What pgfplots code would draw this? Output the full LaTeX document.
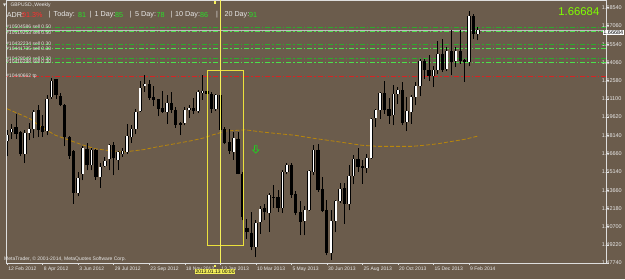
\documentclass[border=0pt]{standalone}
\usepackage{fontspec}
\setmainfont{Liberation Sans}
\newfontfamily\djv{DejaVu Sans}
\usepackage{pgfplots}
\usepackage{pgfplotstable}
\usetikzlibrary{shapes.arrows}
\pgfplotsset{compat=1.18}
\definecolor{bg}{RGB}{107,92,76}
\definecolor{framec}{RGB}{222,222,222}
\definecolor{txt}{RGB}{232,232,232}
\definecolor{ordA}{RGB}{45,170,45}
\definecolor{ordB}{RGB}{75,225,75}
\definecolor{tpred}{RGB}{215,35,35}
\definecolor{ma}{RGB}{184,134,11}
\definecolor{vyel}{RGB}{245,240,90}
\definecolor{ryel}{RGB}{235,225,60}
\definecolor{bign}{RGB}{128,255,0}
\definecolor{adrred}{RGB}{255,45,45}
\definecolor{adrgrn}{RGB}{40,225,40}
\definecolor{arrg}{RGB}{30,210,30}
\definecolor{pline}{RGB}{190,190,190}

\pgfplotstableread{
x o h l c
0 1.5764 1.5858 1.5642 1.5813
1 1.5837 1.5907 1.5785 1.5866
4 1.5663 1.5853 1.5587 1.5831
5 1.5831 1.5913 1.5772 1.5861
6 1.5861 1.6016 1.5791 1.6002
9 1.5848 1.6138 1.5813 1.6110
10 1.6124 1.6281 1.6110 1.6255
16 1.5346 1.5514 1.5317 1.5466
17 1.5501 1.5723 1.5447 1.5712
19 1.5569 1.5712 1.5528 1.5696
21 1.5474 1.5588 1.5387 1.5555
22 1.5566 1.5636 1.5555 1.5601
23 1.5618 1.5740 1.5528 1.5732
25 1.5615 1.5685 1.5533 1.5677
26 1.5658 1.5712 1.5636 1.5683
27 1.5677 1.5907 1.5663 1.5805
28 1.5799 1.5894 1.5750 1.5866
29 1.5866 1.6029 1.5821 1.6002
30 1.6008 1.6255 1.6002 1.6200
31 1.6212 1.6301 1.6165 1.6228
36 1.6002 1.6138 1.5907 1.6078
40 1.5913 1.6043 1.5894 1.6016
41 1.6016 1.6057 1.5954 1.6035
43 1.6011 1.6184 1.5994 1.6165
44 1.6160 1.6301 1.6103 1.6171
47 1.6024 1.6146 1.6011 1.6138
51 1.5677 1.5839 1.5615 1.5791
56 1.4904 1.5121 1.4823 1.5099
57 1.5108 1.5235 1.5012 1.5211
59 1.5181 1.5343 1.5026 1.5325
62 1.5224 1.5533 1.5181 1.5514
63 1.5514 1.5588 1.5496 1.5574
67 1.5116 1.5235 1.4999 1.5208
68 1.5208 1.5528 1.5197 1.5520
69 1.5514 1.5732 1.5488 1.5696
73 1.4858 1.5208 1.4801 1.5116
74 1.5116 1.5289 1.5026 1.5279
75 1.5279 1.5425 1.5262 1.5379
77 1.5257 1.5569 1.5203 1.5479
78 1.5482 1.5650 1.5414 1.5618
81 1.5549 1.5663 1.5509 1.5631
82 1.5631 1.5954 1.5623 1.5948
83 1.5954 1.6029 1.5880 1.6016
84 1.6016 1.6165 1.5948 1.6157
87 1.5976 1.6220 1.5894 1.6151
88 1.6151 1.6206 1.6070 1.6179
90 1.5921 1.6124 1.5848 1.6008
91 1.6002 1.6138 1.5907 1.6124
92 1.6124 1.6247 1.6057 1.6214
93 1.6214 1.6436 1.6130 1.6417
96 1.6293 1.6374 1.6206 1.6347
97 1.6342 1.6578 1.6314 1.6477
99 1.6350 1.6531 1.6334 1.6496
101 1.6417 1.6531 1.6369 1.6496
104 1.6409 1.6824 1.6374 1.6781
106 1.6639 1.6694 1.6586 1.6668
}\up

\pgfplotstableread{
x o h l c
2 1.5880 1.5984 1.5785 1.5825
3 1.5839 1.5847 1.5642 1.5659
7 1.6021 1.6057 1.5799 1.5853
8 1.5886 1.5976 1.5799 1.5839
11 1.6269 1.6273 1.6110 1.6138
12 1.6132 1.6157 1.6049 1.6057
13 1.6057 1.6070 1.5723 1.5799
14 1.5799 1.5805 1.5622 1.5644
15 1.5685 1.5691 1.5257 1.5346
18 1.5699 1.5750 1.5528 1.5569
20 1.5691 1.5704 1.5452 1.5474
24 1.5732 1.5758 1.5488 1.5631
32 1.6228 1.6260 1.6103 1.6119
33 1.6124 1.6212 1.6049 1.6103
34 1.6106 1.6110 1.5968 1.6029
35 1.6035 1.6171 1.5994 1.6002
37 1.6076 1.6165 1.5994 1.6016
38 1.6021 1.6043 1.5875 1.5894
39 1.5915 1.5921 1.5813 1.5899
42 1.6035 1.6119 1.5989 1.6008
45 1.6171 1.6273 1.6057 1.6146
46 1.6151 1.6165 1.5994 1.6029
48 1.6138 1.6146 1.5839 1.5858
49 1.5866 1.5880 1.5740 1.5750
50 1.5758 1.5866 1.5663 1.5685
52 1.5785 1.5839 1.5496 1.5501
53 1.5501 1.5514 1.5121 1.5148
54 1.5061 1.5135 1.4972 1.5026
55 1.5021 1.5189 1.4877 1.4904
58 1.5224 1.5257 1.5121 1.5189
60 1.5311 1.5406 1.5224 1.5303
61 1.5311 1.5365 1.5189 1.5224
64 1.5574 1.5588 1.5305 1.5330
65 1.5338 1.5360 1.5162 1.5183
66 1.5189 1.5278 1.4999 1.5108
70 1.5696 1.5745 1.5352 1.5370
71 1.5376 1.5474 1.5189 1.5197
72 1.5203 1.5289 1.4837 1.4858
76 1.5384 1.5425 1.5094 1.5257
79 1.5618 1.5712 1.5514 1.5555
80 1.5563 1.5610 1.5419 1.5547
85 1.6157 1.6255 1.5989 1.6021
86 1.6024 1.6119 1.5907 1.5970
89 1.6179 1.6247 1.5894 1.5915
94 1.6417 1.6436 1.6273 1.6342
95 1.6342 1.6464 1.6255 1.6293
98 1.6472 1.6599 1.6328 1.6347
100 1.6496 1.6667 1.6301 1.6409
102 1.6496 1.6672 1.6395 1.6417
103 1.6428 1.6436 1.6247 1.6409
105 1.6781 1.6797 1.6599 1.6639
}\dn

\begin{document}
\begin{tikzpicture}[x=1pt,y=1pt]
\useasboundingbox (0,0) rectangle (625,279);
\fill[bg] (0,0) rectangle (625,279);
\begin{axis}[
  at={(1.5,13)}, anchor=south west,
  scale only axis, width=600pt, height=263pt,
  xmin=-0.1, xmax=135, ymin=1.4774, ymax=1.6914,
  clip mode=individual,
  axis line style={draw=framec, line width=0.7pt},
  xtick={0,8,...,104},
  xticklabels={12 Feb 2012, 8 Apr 2012, 3 Jun 2012, 29 Jul 2012, 23 Sep 2012, 18 Nov 2012, 13 Jan 2013, 10 Mar 2013, 5 May 2013, 30 Jun 2013, 25 Aug 2013, 20 Oct 2013, 15 Dec 2013, 9 Feb 2014},
  ytick={1.4774,1.4922,1.5070,1.5218,1.5366,1.5514,1.5666,1.5814,1.5962,1.6110,1.6258,1.6406,1.6554,1.6706,1.6854},
  yticklabels={1.47740,1.49220,1.50700,1.52180,1.53660,1.55140,1.56660,1.58140,1.59620,1.61100,1.62580,1.64060,1.65540,1.67060,1.68540},
  xtick pos=left, ytick pos=right,
  xticklabel pos=left, yticklabel pos=right,
  tick align=outside, major tick length=2pt,
  every tick/.style={draw=framec, line width=0.5pt},
  xticklabel style={font=\fontsize{5}{6}\selectfont, text=txt, anchor=north west, inner sep=0pt, xshift=1pt, yshift=-1.5pt},
  yticklabel style={font=\fontsize{5.5}{6}\selectfont, text=txt, anchor=west, inner sep=0pt, xshift=-7pt},
]
% order lines
\addplot[ordA, line width=0.6pt, dash pattern=on 5pt off 2pt on 1.5pt off 2pt] coordinates {(-1,1.6688) (140,1.6688)};
\addplot[pline, line width=0.5pt] coordinates {(-1,1.66684) (140,1.66684)};
\addplot[ordB, line width=0.8pt, dash pattern=on 5pt off 2pt on 1.5pt off 2pt] coordinates {(-1,1.6659) (140,1.6659)};
\addplot[ordA, line width=0.6pt, dash pattern=on 5pt off 2pt on 1.5pt off 2pt] coordinates {(-1,1.6553) (140,1.6553)};
\addplot[ordB, line width=0.8pt, dash pattern=on 5pt off 2pt on 1.5pt off 2pt] coordinates {(-1,1.6523) (140,1.6523)};
\addplot[ordA, line width=0.6pt, dash pattern=on 5pt off 2pt on 1.5pt off 2pt] coordinates {(-1,1.6436) (140,1.6436)};
\addplot[ordB, line width=0.8pt, dash pattern=on 5pt off 2pt on 1.5pt off 2pt] coordinates {(-1,1.6409) (140,1.6409)};
\addplot[tpred, line width=0.6pt, dash pattern=on 5pt off 2pt on 1.5pt off 2pt] coordinates {(-1,1.6293) (140,1.6293)};
% moving average
\addplot[ma, line width=0.8pt, dash pattern=on 4pt off 2pt] coordinates {
(0.0,1.6029) (5.2,1.5948) (7.0,1.5897) (10.8,1.5815) (13.1,1.5785) (16.9,1.5736) (19.8,1.5704) (24.3,1.5683) (26.1,1.5677) (30.6,1.5696) (33.6,1.5718) (37.4,1.5742) (41.2,1.5767) (44.2,1.5791) (46.4,1.5818) (49.3,1.5848) (53.6,1.5858) (57.4,1.5840) (64.9,1.5813) (68.6,1.5791) (73.9,1.5764) (79.9,1.5732) (83.6,1.5723) (91.1,1.5723) (94.5,1.5734) (97.1,1.5745) (100.2,1.5764) (103.1,1.5781) (106.0,1.5807)};
% wicks
\addplot[black, line width=0.9pt, quiver={u=0, v=\thisrow{h}-\thisrow{l}}] table[x=x, y=l] {\up};
\addplot[black, line width=0.9pt, quiver={u=0, v=\thisrow{h}-\thisrow{l}}] table[x=x, y=l] {\dn};
% bodies
\addplot[black, line width=3.2pt, quiver={u=0, v=\thisrow{c}-\thisrow{o}}] table[x=x, y=o] {\dn};
\addplot[black, line width=3.4pt, quiver={u=0, v=\thisrow{c}-\thisrow{o}}] table[x=x, y=o] {\up};
\addplot[white, line width=1.8pt, quiver={u=0, v=\thisrow{c}-\thisrow{o}}] table[x=x, y=o] {\up};
% vertical line and rectangle
\addplot[ryel, line width=0.8pt] coordinates {(45.0,1.4918) (53.1,1.4918) (53.1,1.6342) (45.0,1.6342) (45.0,1.4918)};
\addplot[vyel, line width=0.8pt] coordinates {(48,1.4774) (48,1.6914)};
\node[single arrow, draw=arrg, line width=0.7pt, shape border rotate=270, minimum height=7.5pt, minimum width=6.5pt, single arrow head extend=1.5pt, single arrow head indent=0pt, inner sep=0.6pt] at (axis cs:56,1.5704) {};
\end{axis}
% header
\node[anchor=west, inner sep=0pt, text=txt, font=\djv\fontsize{4}{5}\selectfont] at (3,273.8) {▼};
\node[anchor=west, inner sep=0pt, text=txt, font=\fontsize{5}{6}\selectfont] at (10.3,273.4) {GBPUSD.,Weekly};
\begin{scope}[every node/.style={anchor=west, inner sep=0pt, font=\fontsize{7.2}{8}\selectfont}]
\node[text=txt] at (6.7,264) {ADR:};
\node[text=adrred] at (22,264) {91.3\%};
\node[text=txt] at (48.5,264) {|};
\node[text=txt] at (53.5,264) {Today:};
\node[text=adrgrn] at (77.8,264) {81};
\node[text=txt] at (89.5,264) {|};
\node[text=txt] at (94.5,264) {1 Day:};
\node[text=adrgrn] at (115,264) {85};
\node[text=txt] at (129.5,264) {|};
\node[text=txt] at (135,264) {5 Day:};
\node[text=adrgrn] at (156.5,264) {78};
\node[text=txt] at (170.5,264) {|};
\node[text=txt] at (175,264) {10 Day:};
\node[text=adrgrn] at (200,264) {86};
\node[text=txt] at (215.8,264) {|};
\node[text=txt] at (224.3,264) {20 Day:};
\node[text=adrgrn] at (249,264) {91};
\end{scope}
\begin{scope}[every node/.style={anchor=west, inner sep=0pt, text=txt, font=\fontsize{5}{6}\selectfont}]
\node at (6,252.3) {\#10504586 sell 0.50};
\node at (6,246.7) {\#10519253 sell 0.50};
\node at (6,235.7) {\#10432234 sell 0.30};
\node at (6,230.5) {\#10441735 sell 0.30};
\node at (6,220.7) {\#10428049 sell 0.30};
\node at (6,217) {\#10416298 sell 0.30};
\node at (6,203) {\#10440662 tp};
\node at (4,19.3) {MetaTrader, © 2001-2014, MetaQuotes Software Corp.};
\end{scope}
\node[anchor=east, inner sep=0pt, text=bign, font=\fontsize{11.3}{12}\selectfont] at (599.5,267.5) {1.66684};
\node[anchor=west, fill=white, text=black, inner sep=0.7pt, font=\fontsize{5.5}{6}\selectfont] at (602.5,246.3) {1.66684};
\node[fill=vyel, text=black, inner sep=0.8pt, font=\fontsize{5}{6}\selectfont] at (215.1,7.5) {2013.01.13 00:00};
\fill[vyel] (213.9,275.1) rectangle (216.3,277.5);
\fill[vyel] (213.9,11.8) rectangle (216.3,14.2);
\end{tikzpicture}
\end{document}
